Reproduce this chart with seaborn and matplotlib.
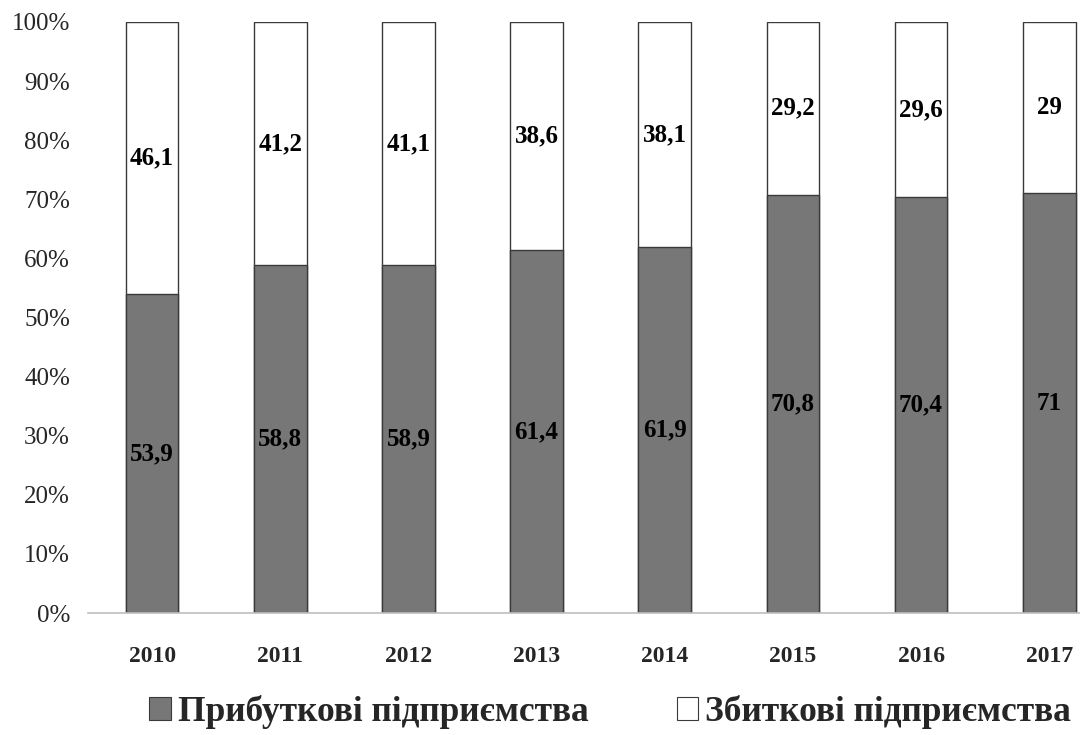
import matplotlib
matplotlib.use("Agg")
import matplotlib.pyplot as plt
import seaborn as sns
import pandas as pd
from matplotlib.patches import Patch

years = ["2010", "2011", "2012", "2013", "2014", "2015", "2016", "2017"]
profitable = [53.9, 58.8, 58.9, 61.4, 61.9, 70.8, 70.4, 71]
loss = [46.1, 41.2, 41.1, 38.6, 38.1, 29.2, 29.6, 29]
profit_labels = ["53,9", "58,8", "58,9", "61,4", "61,9", "70,8", "70,4", "71"]
loss_labels = ["46,1", "41,2", "41,1", "38,6", "38,1", "29,2", "29,6", "29"]
yticks = [0, 10, 20, 30, 40, 50, 60, 70, 80, 90, 100]
series_names = ["Прибуткові підприємства", "Збиткові підприємства"]

sns.set_theme(style="white")
plt.rcParams["font.family"] = ["Liberation Serif", "DejaVu Serif"]

df = pd.DataFrame({"year": years, "profit": profitable, "loss": loss})
df["total"] = df["profit"] + df["loss"]

fig = plt.figure(figsize=(10.8, 7.35), dpi=100)
ax = fig.add_axes([88 / 1080, 1 - 613 / 735, 1 - 88 / 1080, (613 - 22) / 735])

dark = "#777777"
edge = "#3a3a3a"
bw = 0.41
sns.barplot(data=df, x="year", y="total", color="white", edgecolor=edge,
            linewidth=1.0, width=bw, ax=ax, saturation=1)
sns.barplot(data=df, x="year", y="profit", color=dark, edgecolor=edge,
            linewidth=1.0, width=bw, ax=ax, saturation=1)

for i in range(len(years)):
    ax.text(i, profitable[i] / 2, profit_labels[i], ha="center", va="center",
            fontsize=18, fontweight="bold", color="black")
    ax.text(i, profitable[i] + loss[i] / 2, loss_labels[i], ha="center", va="center",
            fontsize=18, fontweight="bold", color="black")

ax.set_ylim(0, 100)
ax.set_xlim(-0.5, 7.24)
ax.set_yticks(yticks)
ax.set_yticklabels([f"{t}%" for t in yticks], fontsize=18)
ax.tick_params(axis="y", length=0, pad=13)
ax.tick_params(axis="x", length=0, pad=24)
for lab in ax.get_xticklabels():
    lab.set_fontsize(17)
    lab.set_fontweight("bold")
ax.set_xlabel("")
ax.set_ylabel("")
for s in ["top", "right", "left"]:
    ax.spines[s].set_visible(False)
ax.spines["bottom"].set_color("#bfbfbf")
ax.spines["bottom"].set_linewidth(1.2)
ax.grid(False)

handles = [Patch(facecolor=dark, edgecolor=edge, linewidth=0.8),
           Patch(facecolor="white", edgecolor=edge, linewidth=0.8)]
fig.legend(handles, series_names, loc="center", bbox_to_anchor=(0.565, 1 - 712 / 735),
           ncol=2, frameon=False, prop={"size": 25.5, "weight": "bold"},
           handlelength=0.6, handleheight=0.6, handletextpad=0.2, columnspacing=2.5)

fig.savefig("out.png", dpi=100)
